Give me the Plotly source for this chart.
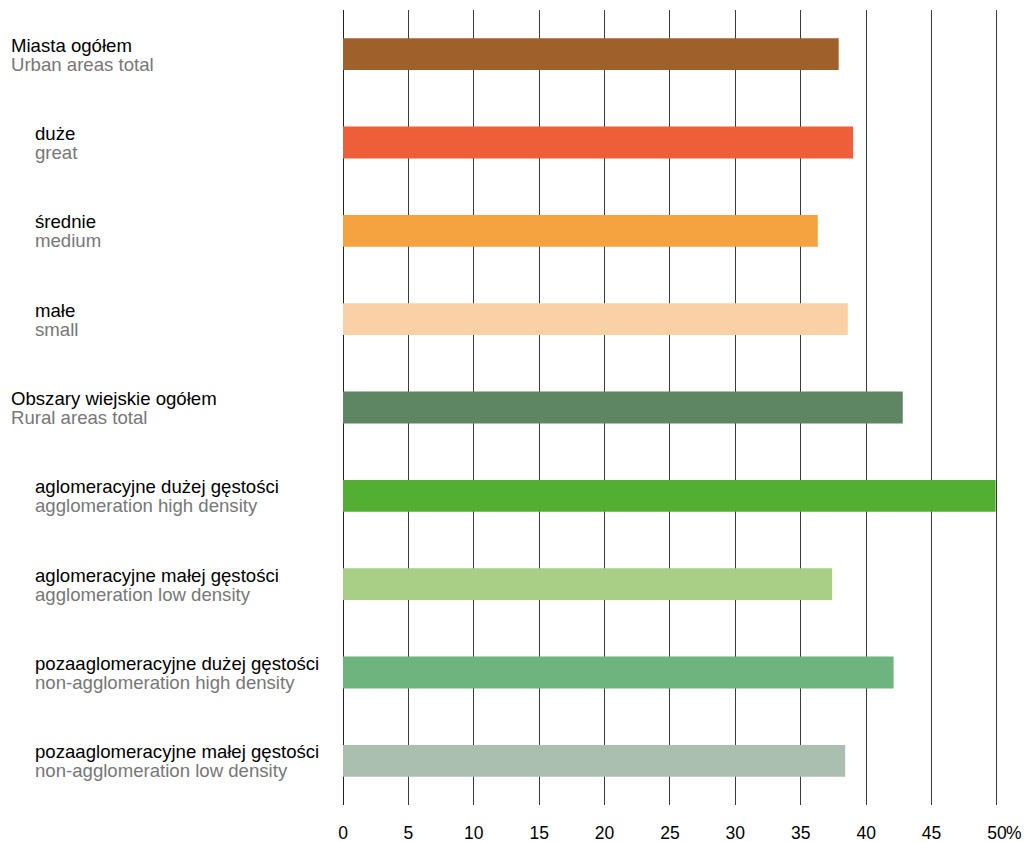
import plotly.graph_objects as go

# Share of households (%) by type of area
labels_pl = [
    "Miasta ogółem",
    "duże",
    "średnie",
    "małe",
    "Obszary wiejskie ogółem",
    "aglomeracyjne dużej gęstości",
    "aglomeracyjne małej gęstości",
    "pozaaglomeracyjne dużej gęstości",
    "pozaaglomeracyjne małej gęstości",
]
labels_en = [
    "Urban areas total",
    "great",
    "medium",
    "small",
    "Rural areas total",
    "agglomeration high density",
    "agglomeration low density",
    "non-agglomeration high density",
    "non-agglomeration low density",
]
is_total = [True, False, False, False, True, False, False, False, False]
values = [37.9, 39.0, 36.3, 38.6, 42.8, 49.9, 37.4, 42.1, 38.4]
colors = [
    "#A0602B", "#EE5E38", "#F5A240", "#FAD1A6",
    "#5E8662", "#53AE34", "#A9CF86", "#6EB47E", "#AABFAF",
]
tick_vals = [0, 5, 10, 15, 20, 25, 30, 35, 40, 45, 50]
tick_text = ["0", "5", "10", "15", "20", "25", "30", "35", "40", "45", "50"]

W, H = 1026, 842
ML, MR, MT, MB = 343, 16, 10, 37
FONT = "Liberation Sans, Arial, sans-serif"
FS = 18.6
TICK_FS = 17.5

fig = go.Figure(
    go.Bar(
        x=values,
        y=labels_pl,
        orientation="h",
        marker=dict(color=colors, line=dict(width=0)),
        width=0.36,
        hoverinfo="x+y",
    )
)

plot_w = W - ML - MR
annotations = []
for name, en, total in zip(labels_pl, labels_en, is_total):
    left_px = 10 if total else 34
    xp = (left_px - ML) / plot_w
    annotations.append(dict(
        x=xp, xref="paper", y=name, yref="y", xanchor="left", yanchor="middle",
        text=name, showarrow=False, yshift=9, borderpad=0,
        font=dict(family=FONT, size=FS, color="#000000"),
    ))
    annotations.append(dict(
        x=xp, xref="paper", y=name, yref="y", xanchor="left", yanchor="middle",
        text=en, showarrow=False, yshift=-10, borderpad=0,
        font=dict(family=FONT, size=FS, color="#777777"),
    ))

# percent sign after the last tick value
annotations.append(dict(
    x=50, xref="x", y=0, yref="paper", xanchor="left", yanchor="middle",
    text="%", showarrow=False, xshift=8, yshift=-28, borderpad=0,
    font=dict(family=FONT, size=TICK_FS, color="#000000"),
))

fig.update_layout(
    width=W, height=H,
    margin=dict(l=ML, r=MR, t=MT, b=MB, pad=0, autoexpand=False),
    paper_bgcolor="white", plot_bgcolor="white",
    showlegend=False,
    font=dict(family=FONT, size=FS, color="#000000"),
    annotations=annotations,
)
fig.update_xaxes(
    range=[0, 51],
    tickmode="array", tickvals=tick_vals, ticktext=tick_text,
    showgrid=True, gridcolor="#3a3a3a", gridwidth=1,
    zeroline=True, zerolinecolor="#222222", zerolinewidth=1,
    showline=False, ticks="", ticklabelstandoff=15,
    tickfont=dict(family=FONT, size=TICK_FS, color="#000000"),
    automargin=False, fixedrange=True,
)
fig.update_yaxes(
    categoryorder="array", categoryarray=labels_pl, autorange="reversed",
    showticklabels=False, showgrid=False, zeroline=False, showline=False,
    ticks="", automargin=False, fixedrange=True,
)

fig.write_html("out.html", include_plotlyjs=True, config={"displayModeBar": False})
